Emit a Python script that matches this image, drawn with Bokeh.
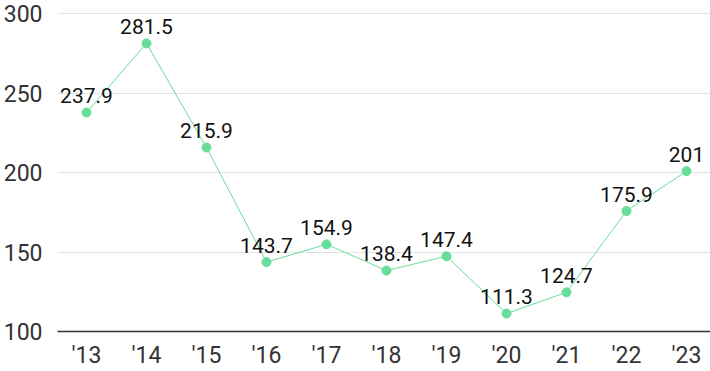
from bokeh.plotting import figure
from bokeh.models import ColumnDataSource, Range1d, FixedTicker
from bokeh.core.properties import value
from bokeh.embed import file_html
from bokeh.resources import INLINE

years = ["'13", "'14", "'15", "'16", "'17", "'18", "'19", "'20", "'21", "'22", "'23"]
values = [237.9, 281.5, 215.9, 143.7, 154.9, 138.4, 147.4, 111.3, 124.7, 175.9, 201]
labels = ["237.9", "281.5", "215.9", "143.7", "154.9", "138.4", "147.4", "111.3", "124.7", "175.9", "201"]
y_ticks = [100, 150, 200, 250, 300]

xs = list(range(len(years)))
src = ColumnDataSource(dict(x=xs, y=values, lab=labels))

p = figure(width=710, height=371, output_backend="svg", toolbar_location=None,
           x_range=Range1d(-0.483, 10.4), y_range=Range1d(100, 308.5),
           min_border_left=56, min_border_right=0, min_border_top=0, min_border_bottom=0)
p.outline_line_color = None
p.background_fill_color = "white"

green = "#66dd99"
p.line("x", "y", source=src, line_color=green, line_width=1)
p.scatter("x", "y", source=src, size=9, fill_color=green, line_color=green)
p.text("x", "y", text="lab", source=src, y_offset=-17, text_align="center",
       text_baseline="alphabetic", text_font=value("Roboto"), text_font_size="21px",
       text_color="#111111")

p.xaxis.ticker = FixedTicker(ticks=xs)
p.xaxis.major_label_overrides = {i: y for i, y in enumerate(years)}
p.yaxis.ticker = FixedTicker(ticks=y_ticks)
for ax in (p.xaxis, p.yaxis):
    ax.major_tick_line_color = None
    ax.minor_tick_line_color = None
    ax.major_tick_out = 0
    ax.major_tick_in = 0
    ax.minor_tick_out = 0
    ax.major_label_text_font = "Roboto"
    ax.major_label_text_color = "#333333"
p.xaxis.major_label_text_font_size = "23px"
p.yaxis.major_label_text_font_size = "23px"
p.xaxis.axis_line_color = "#333333"
p.xaxis.axis_line_width = 1.5
p.xaxis.major_label_standoff = 10
p.yaxis.axis_line_color = None
p.yaxis.major_label_standoff = 15
p.xgrid.grid_line_color = None
p.ygrid.grid_line_color = "#e3e3e3"
p.ygrid.grid_line_width = 1

open("out.html", "w").write(file_html(p, INLINE))
